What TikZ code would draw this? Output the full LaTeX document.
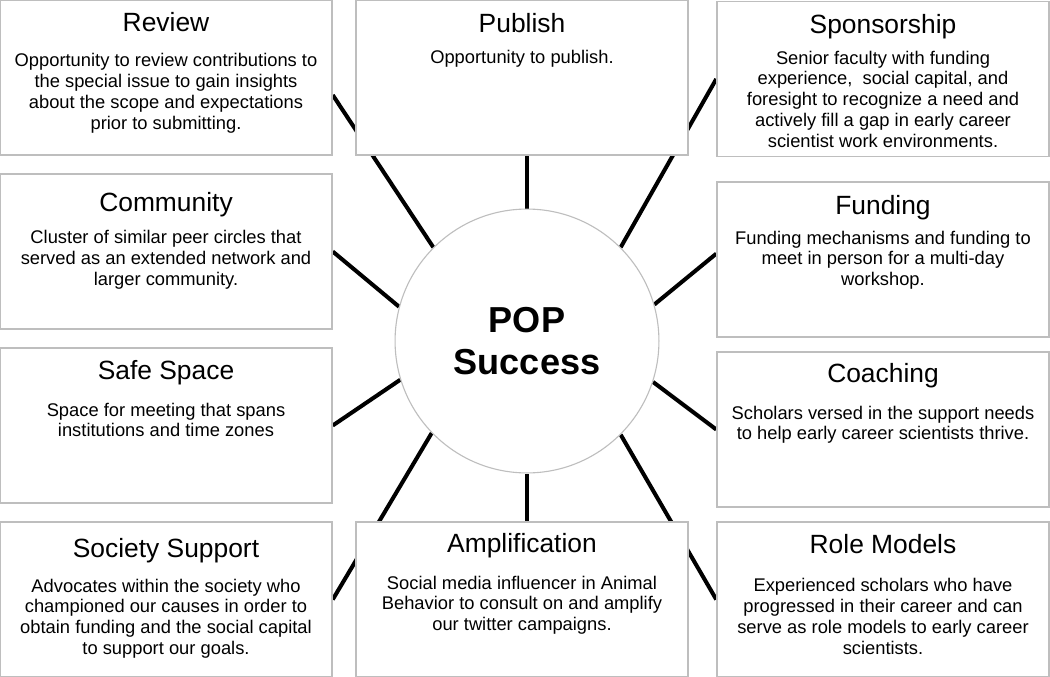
\documentclass[tikz,border=0pt]{standalone}
\usepackage{fontspec}
\setmainfont{Liberation Sans}
\usetikzlibrary{positioning,calc,backgrounds}
\definecolor{CardGray}{RGB}{190,190,190}
\newlength\pxu
\setlength\pxu{0.72pt}
\newcommand{\cardtitle}{\fontsize{19}{22}\selectfont}
\newcommand{\cardbody}{\fontsize{13.2}{15}\selectfont}
% #1 title baseline below top, #2 title to body baseline (both in px)
\newcommand{\cardtext}[4]{\parbox[c][111.6pt][t]{236pt}{\centering
  \vspace*{\dimexpr#1\pxu-14pt\relax}%
  {\cardtitle\rule{0pt}{14pt}#3\par}%
  \vspace{\dimexpr#2\pxu-15pt\relax}%
  {\cardbody #4\par}}}
\tikzset{
  card/.style={draw=CardGray,line width=1.1pt,fill=white,inner sep=0pt,
    minimum width=239pt,minimum height=111.6pt},
  hub/.style={circle,draw=CardGray,line width=0.8pt,fill=white,inner sep=0pt,
    minimum size=190pt,align=center,font=\bfseries\fontsize{26}{30}\selectfont},
  spoke/.style={draw=black,line width=2.9pt},
}

\begin{document}
\begin{tikzpicture}[x=0.72pt,y=-0.72pt]
\useasboundingbox (0,0) rectangle (1050,677);
\node[hub] (pop) at (527,341) {POP\\Success};
\node[card] (review) at (166,77.5) {\cardtext{31.7}{35}{Review}{Opportunity to review contributions to\\the special issue to gain insights\\about the scope and expectations\\prior to submitting.}};
\node[card] (publish) at (522,77.5) {\cardtext{32}{31}{Publish}{Opportunity to publish.}};
\node[card] (sponsor) at (883,79) {\cardtext{31.5}{31}{Sponsorship}{Senior faculty with funding\\experience,\ \ social capital, and\\foresight to recognize a need and\\actively fill a gap in early career\\scientist work environments.}};
\node[card] (community) at (166,251.5) {\cardtext{37.7}{32}{Community}{Cluster of similar peer circles that\\served as an extended network and\\larger community.}};
\node[card] (funding) at (883,259.5) {\cardtext{32}{30}{Funding}{Funding mechanisms and funding to\\meet in person for a multi-day\\workshop.}};
\node[card] (safespace) at (166,425.5) {\cardtext{31}{37}{Safe Space}{Space for meeting that spans\\institutions and time zones}};
\node[card] (coaching) at (883,429.5) {\cardtext{30}{37}{Coaching}{Scholars versed in the support needs\\to help early career scientists thrive.}};
\node[card] (society) at (166,599.5) {\cardtext{35}{35}{Society Support}{Advocates within the society who\\championed our causes in order to\\obtain funding and the social capital\\to support our goals.}};
\node[card] (amplify) at (522,599.5) {\cardtext{30}{37}{Amplification}{Social media influencer in Animal\\Behavior to consult on and amplify\\our twitter campaigns.}};
\node[card] (rolemodel) at (883,599.5) {\cardtext{31}{38.5}{Role Models}{Experienced scholars who have\\progressed in their career and can\\serve as role models to early career\\scientists.}};
% spokes sit behind the cards
\begin{pgfonlayer}{background}
\draw[spoke] (pop.north) -- (pop.north |- publish.south);
\draw[spoke] (pop.135) -- (review.-6);
\draw[spoke] (pop.165) -- (community.east);
\draw[spoke] (pop.197) -- (safespace.east);
\draw[spoke] (pop.224) -- (society.east);
\draw[spoke] (pop.south) -- (pop.south |- amplify.north);
\draw[spoke] (pop.315) -- (rolemodel.west);
\draw[spoke] (pop.342) -- (coaching.west);
\draw[spoke] (pop.16) -- (funding.178);
\draw[spoke] (pop.45) -- (sponsor.west);
\end{pgfonlayer}
\end{tikzpicture}
\end{document}
